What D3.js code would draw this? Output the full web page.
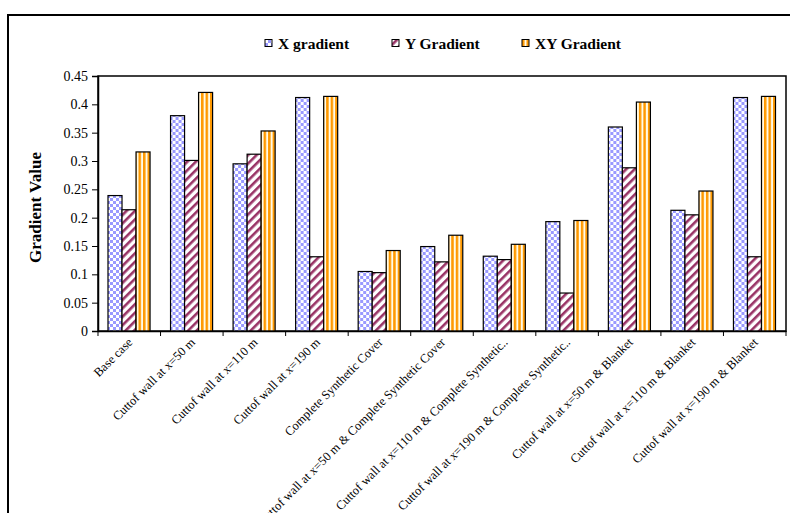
<!DOCTYPE html>
<html>
<head>
<meta charset="utf-8">
<script src="https://cdn.jsdelivr.net/npm/d3@7"></script>
<style>
  body { margin: 0; background: #fff; }
  text { font-family: "Liberation Serif", "Times New Roman", serif; }
</style>
</head>
<body>
<svg id="chart" width="790" height="513"></svg>
<script>
const categories = [
  'Base case',
  'Cuttof wall at x=50 m',
  'Cuttof wall at x=110 m',
  'Cuttof wall at x=190 m',
  'Complete Synthetic Cover',
  'Cuttof wall at x=50 m & Complete Synthetic Cover',
  'Cuttof wall at x=110 m & Complete Synthetic..',
  'Cuttof wall at x=190 m & Complete Synthetic..',
  'Cuttof wall at x=50 m & Blanket',
  'Cuttof wall at x=110 m & Blanket',
  'Cuttof wall at x=190 m & Blanket'
];
const seriesNames = ['X gradient', 'Y Gradient', 'XY Gradient'];
const xGradient = [0.239, 0.380, 0.295, 0.412, 0.105, 0.149, 0.132, 0.193, 0.360, 0.213, 0.412];
const yGradient = [0.214, 0.301, 0.312, 0.131, 0.103, 0.122, 0.126, 0.067, 0.288, 0.205, 0.131];
const xyGradient = [0.316, 0.421, 0.353, 0.414, 0.142, 0.169, 0.153, 0.195, 0.404, 0.247, 0.414];
const yTicks = [0, 0.05, 0.1, 0.15, 0.2, 0.25, 0.3, 0.35, 0.4, 0.45];

const svg = d3.select('#chart');
const plotL = 98, plotR = 786, plotT = 76, plotB = 331;

// patterns
const defs = svg.append('defs');
let p = defs.append('pattern').attr('id', 'pX').attr('patternUnits', 'userSpaceOnUse')
  .attr('width', 6).attr('height', 6);
p.append('rect').attr('width', 6).attr('height', 6).attr('fill', '#ffffff');
p.append('rect').attr('width', 3).attr('height', 3).attr('fill', '#9999ff');
p.append('rect').attr('x', 3).attr('y', 3).attr('width', 3).attr('height', 3).attr('fill', '#9999ff');

p = defs.append('pattern').attr('id', 'pY').attr('patternUnits', 'userSpaceOnUse')
  .attr('width', 6).attr('height', 6).attr('patternTransform', 'rotate(45)');
p.append('rect').attr('width', 6).attr('height', 6).attr('fill', '#ffffff');
p.append('rect').attr('width', 2.6).attr('height', 6).attr('fill', '#993366');

p = defs.append('pattern').attr('id', 'pXY').attr('patternUnits', 'userSpaceOnUse')
  .attr('width', 4.5).attr('height', 6);
p.append('rect').attr('width', 4.5).attr('height', 6).attr('fill', '#fffbe8');
p.append('rect').attr('width', 2.5).attr('height', 6).attr('fill', '#ff9900');

const fills = ['url(#pX)', 'url(#pY)', 'url(#pXY)'];

// outer frame
svg.append('rect').attr('x', 8).attr('y', 15).attr('width', 800).attr('height', 520)
  .attr('fill', 'none').attr('stroke', '#000').attr('stroke-width', 2);

const xScale = d3.scaleBand().domain(categories).range([plotL, plotR]).paddingInner(0).paddingOuter(0);
const xSub = d3.scaleBand().domain(seriesNames).range([10, xScale.bandwidth() - 10.5]);
const yScale = d3.scaleLinear().domain([0, 0.45]).range([plotB, plotT]);

// plot area box
svg.append('rect').attr('x', plotL).attr('y', plotT).attr('width', plotR - plotL).attr('height', plotB - plotT)
  .attr('fill', 'none').attr('stroke', '#000').attr('stroke-width', 1.5);

const data = categories.map((c, i) => ({
  cat: c,
  vals: [xGradient[i], yGradient[i], xyGradient[i]]
}));

svg.selectAll('g.grp').data(data).enter().append('g')
  .attr('class', 'grp')
  .attr('transform', d => `translate(${xScale(d.cat)},0)`)
  .selectAll('rect').data(d => d.vals.map((v, j) => ({ v, j }))).enter().append('rect')
  .attr('x', d => xSub(seriesNames[d.j]))
  .attr('width', xSub.bandwidth())
  .attr('y', d => yScale(d.v))
  .attr('height', d => yScale(0) - yScale(d.v))
  .attr('fill', d => fills[d.j])
  .attr('stroke', '#000')
  .attr('stroke-width', 1.2);

// y axis
const yAxis = d3.axisLeft(yScale).tickValues(yTicks).tickSize(6).tickFormat(d => d3.format('')(+d.toFixed(2)));
const yG = svg.append('g').attr('transform', `translate(${plotL},0)`).call(yAxis);
yG.select('.domain').attr('stroke', '#000').attr('stroke-width', 1.5);
yG.selectAll('.tick line').attr('stroke', '#000');
yG.selectAll('.tick text').attr('font-size', 14).attr('fill', '#000')
  .attr('font-family', '"Liberation Serif", serif').attr('x', -10);

// x axis
const xAxis = d3.axisBottom(xScale).tickSize(5).tickSizeOuter(0);
const xG = svg.append('g').attr('transform', `translate(0,${plotB})`).call(xAxis);
xG.select('.domain').attr('stroke', '#000').attr('stroke-width', 1.5);
xG.selectAll('.tick line').attr('stroke', '#000')
  .attr('transform', `translate(${-xScale.bandwidth() / 2},0)`);
svg.append('line').attr('x1', plotR).attr('x2', plotR).attr('y1', plotB).attr('y2', plotB + 5).attr('stroke', '#000');
xG.selectAll('.tick text')
  .attr('font-size', 12.5).attr('fill', '#000')
  .attr('font-family', '"Liberation Serif", serif')
  .attr('text-anchor', 'end')
  .attr('dy', 0).attr('y', 0)
  .attr('transform', 'translate(4,12) rotate(-45)');

// y title
svg.append('text').attr('transform', `translate(41,${(plotT + plotB) / 2 + 4}) rotate(-90)`)
  .attr('text-anchor', 'middle').attr('font-size', 17).attr('font-weight', 'bold')
  .text('Gradient Value');

// legend
const legendX = [265, 392, 522];
const lg = svg.selectAll('g.leg').data(seriesNames).enter().append('g')
  .attr('class', 'leg')
  .attr('transform', (d, i) => `translate(${legendX[i]},43)`);
lg.append('rect').attr('x', 0).attr('y', -3.5).attr('width', 7).attr('height', 7)
  .attr('fill', (d, i) => fills[i]).attr('stroke', '#000').attr('stroke-width', 1);
lg.append('text').attr('x', 13).attr('y', 5.5).attr('font-size', 15.5).attr('font-weight', 'bold')
  .text(d => d);
</script>
</body>
</html>
